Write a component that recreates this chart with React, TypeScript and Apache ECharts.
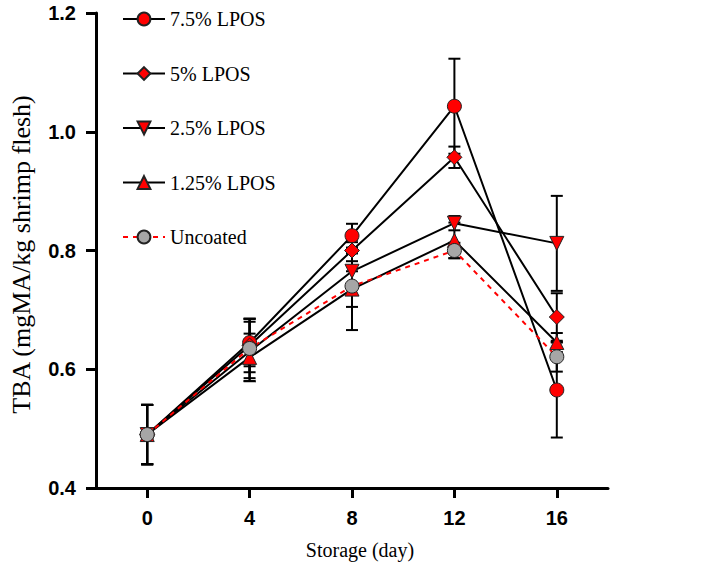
import React, { useEffect, useRef } from "react";
import * as echarts from "echarts";

const days = [0, 4, 8, 12, 16];
const seriesNames = ["7.5% LPOS", "5% LPOS", "2.5% LPOS", "1.25% LPOS", "Uncoated"];
const lpos75 = [0.49, 0.645, 0.825, 1.043, 0.565];
const err75 = [0.05, 0.04, 0.02, 0.08, 0.08];
const lpos5 = [0.49, 0.64, 0.8, 0.957, 0.688];
const err5 = [0.05, 0.045, 0.018, 0.018, 0.04];
const lpos25 = [0.49, 0.63, 0.765, 0.846, 0.812];
const err25 = [0.05, 0.05, 0.03, 0.012, 0.08];
const lpos125 = [0.49, 0.62, 0.735, 0.817, 0.645];
const err125 = [0.05, 0.04, 0.03, 0.03, 0.016];
const uncoated = [0.49, 0.635, 0.74, 0.8, 0.621];
const errU = [0.05, 0.05, 0.074, 0.013, 0.025];
const xTicks = [0, 4, 8, 12, 16];

const values = [lpos75, lpos5, lpos25, lpos125, uncoated];
const errors = [err75, err5, err25, err125, errU];
const symbols = ["circle", "diamond", "triangle", "triangle", "circle"];
const rotates = [0, 0, 180, 0, 0];
const fills = ["#ff0000", "#ff0000", "#ff0000", "#ff0000", "#a6a6a6"];

export default function App() {
  const ref = useRef<HTMLDivElement>(null);
  useEffect(() => {
    const chart = echarts.init(ref.current!, null, { renderer: "svg" });
    const errData: number[][] = [];
    values.forEach((vals, i) => {
      vals.forEach((v, j) => errData.push([days[j], v, errors[i][j]]));
    });
    const lineSeries = values.map((vals, i) => ({
      name: seriesNames[i],
      type: "line",
      data: vals.map((v, j) => [days[j], v]),
      symbol: symbols[i],
      symbolRotate: rotates[i],
      symbolSize: i === 1 ? 15 : 14,
      showSymbol: true,
      z: 3,
      lineStyle: {
        color: i === 4 ? "#ff0000" : "#000000",
        width: 2,
        type: i === 4 ? [5, 5] : "solid",
      },
      itemStyle: { color: fills[i], borderColor: "#222", borderWidth: 1 },
      emphasis: { disabled: true },
    }));
    chart.setOption({
      animation: false,
      grid: { left: 90, right: 101, top: 13, bottom: 82 },
      legend: {
        orient: "vertical",
        left: 117,
        top: 4,
        itemWidth: 42,
        itemHeight: 16,
        itemGap: 34.5,
        data: seriesNames,
        textStyle: { fontFamily: "Liberation Serif", fontSize: 20, color: "#000" },
      },
      xAxis: {
        type: "value",
        min: -2,
        max: 18,
        name: "Storage (day)",
        nameLocation: "middle",
        nameGap: 52,
        nameTextStyle: {
          fontFamily: "Liberation Serif",
          fontSize: 20,
          color: "#000",
          padding: [0, 0, 0, 16],
        },
        axisLine: { show: true, onZero: false, lineStyle: { color: "#000", width: 3 } },
        axisTick: { show: true, length: 10, lineStyle: { color: "#000", width: 3 }, customValues: xTicks },
        axisLabel: {
          customValues: xTicks,
          margin: 20,
          fontFamily: "Liberation Sans",
          fontWeight: "bold",
          fontSize: 20,
          color: "#000",
        },
        splitLine: { show: false },
      },
      yAxis: {
        type: "value",
        min: 0.4,
        max: 1.2,
        interval: 0.2,
        name: "TBA (mgMA/kg shrimp flesh)",
        nameLocation: "middle",
        nameGap: 62,
        nameTextStyle: {
          fontFamily: "Liberation Serif",
          fontSize: 26,
          color: "#000",
          padding: [0, 8, 0, 0],
        },
        axisLine: { show: true, onZero: false, lineStyle: { color: "#000", width: 3 } },
        axisTick: { show: true, length: 10, lineStyle: { color: "#000", width: 3 } },
        axisLabel: {
          margin: 20,
          formatter: (v: number) => v.toFixed(1),
          fontFamily: "Liberation Sans",
          fontWeight: "bold",
          fontSize: 20,
          color: "#000",
        },
        splitLine: { show: false },
      },
      series: [
        {
          type: "custom",
          name: "errors",
          z: 2,
          encode: { x: 0, y: 1 },
          data: errData,
          renderItem: (params: any, api: any) => {
            const x = api.value(0);
            const y = api.value(1);
            const e = api.value(2);
            const t = api.coord([x, y + e]);
            const b = api.coord([x, y - e]);
            const hw = 6;
            const st = { stroke: "#000", lineWidth: 2 };
            return {
              type: "group",
              children: [
                { type: "line", shape: { x1: t[0], y1: t[1], x2: b[0], y2: b[1] }, style: st },
                { type: "line", shape: { x1: t[0] - hw, y1: t[1], x2: t[0] + hw, y2: t[1] }, style: st },
                { type: "line", shape: { x1: b[0] - hw, y1: b[1], x2: b[0] + hw, y2: b[1] }, style: st },
              ],
            };
          },
        },
        ...lineSeries,
      ],
    });
    return () => chart.dispose();
  }, []);
  return (
    <div
      ref={ref}
      style={{ position: "fixed", left: 0, top: 0, width: 709, height: 570, background: "#fff" }}
    />
  );
}
